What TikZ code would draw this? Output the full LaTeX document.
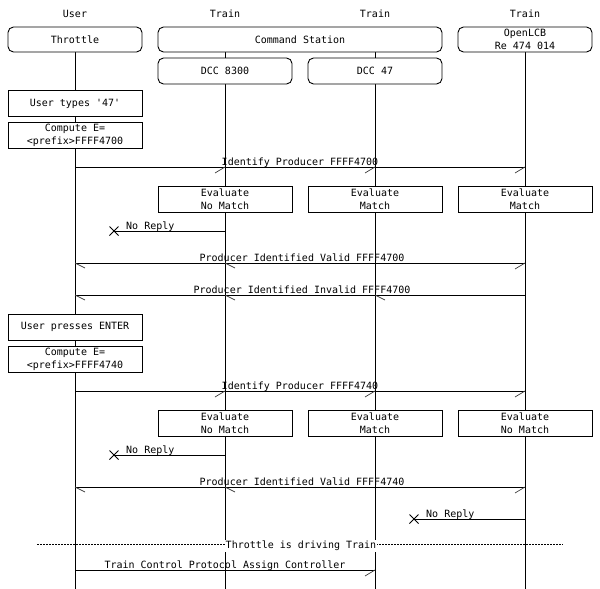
\documentclass[tikz,border=0pt]{standalone}
\usepackage{fontspec}
\newfontfamily\monofam{DejaVu Sans Mono}
\begin{document}
\begin{tikzpicture}[x=1pt,y=-1pt,
  txt/.style={font=\monofam\fontsize{10}{13}\selectfont, inner sep=0pt},
  entity/.style={txt, draw, line width=0.9pt, rounded corners=5.5pt, fill=white, align=center},
  action/.style={txt, draw, line width=0.9pt, fill=white, align=center},
  life/.style={line width=0.9pt},
  msg/.style={line width=0.9pt},
  barb/.style={line width=0.7pt, black!75},
  lbl/.style={txt, anchor=base},
  sep/.style={line width=0.8pt, dash pattern=on 2pt off 1pt},
]
\useasboundingbox (0,0) rectangle (600,589);

% column headings
\node[lbl] (hUser) at (75,17.5) {User};
\node[lbl] (hTr1) at (225,17.5) {Train};
\node[lbl] (hTr2) at (375,17.5) {Train};
\node[lbl] (hTr3) at (525,17.5) {Train};

% lifelines
\draw[life] (75,52) -- (75,589);
\draw[life] (225,52) -- (225,589);
\draw[life] (375,52) -- (375,589);
\draw[life] (525,52) -- (525,589);

% entities
\node[entity, minimum width=134pt, minimum height=25pt] (thr) at (75,39.5) {Throttle};
\node[entity, minimum width=284pt, minimum height=25pt] (cs) at (300,39.5) {Command Station};
\node[entity, minimum width=134pt, minimum height=25pt] (olcb) at (525,39.5) {OpenLCB\\Re 474 014};
\node[entity, minimum width=134pt, minimum height=26pt] (d83) at (225,71) {DCC 8300};
\node[entity, minimum width=134pt, minimum height=26pt] (d47) at (375,71) {DCC 47};

% --- first address: 47 ---
\node[action, minimum width=134pt, minimum height=25.5pt] (typ) at (75,103.5) {User types '47'};
\node[action, minimum width=134pt, minimum height=26pt] (cmp1) at (75,135) {Compute E=\\<prefix>FFFF4700};

\draw[msg] (thr |- 0,167) -- (olcb |- 0,167);
\node[lbl] (mIdent1) at (300,165) {Identify Producer FFFF4700};
\draw[barb] (d83 |- 0,167) -- ++(-10,6);
\draw[barb] (d47 |- 0,167) -- ++(-10,6);
\draw[barb] (olcb |- 0,167) -- ++(-10,6);

\node[action, minimum width=134pt, minimum height=26pt] (ev1a) at (225,199.5) {Evaluate\\No Match};
\node[action, minimum width=134pt, minimum height=26pt] (ev1b) at (375,199.5) {Evaluate\\Match};
\node[action, minimum width=134pt, minimum height=26pt] (ev1c) at (525,199.5) {Evaluate\\Match};

\coordinate (lost1) at (114,231);
\draw[msg] (d83 |- 0,231) -- (lost1);
\draw[msg] ([shift={(-4.5,-4.5)}]lost1) -- ([shift={(4.5,4.5)}]lost1)
           ([shift={(-4.5,4.5)}]lost1) -- ([shift={(4.5,-4.5)}]lost1);
\node[lbl, anchor=base west] (mNo1) at (126,229) {No Reply};

\draw[msg] (thr |- 0,263) -- (olcb |- 0,263);
\node[lbl] (mValid1) at (302,261) {Producer Identified Valid FFFF4700};
\draw[barb] (thr |- 0,263) -- ++(10,5);
\draw[barb] (d83 |- 0,263) -- ++(10,5);
\draw[barb] (olcb |- 0,263) -- ++(-10,6);

\draw[msg] (thr |- 0,295) -- (olcb |- 0,295);
\node[lbl] (mInv1) at (302,293) {Producer Identified Invalid FFFF4700};
\draw[barb] (thr |- 0,295) -- ++(10,5);
\draw[barb] (d83 |- 0,295) -- ++(10,5);
\draw[barb] (d47 |- 0,295) -- ++(10,5);

% --- ENTER ---
\node[action, minimum width=134pt, minimum height=26pt] (ent) at (75,327) {User presses ENTER};
\node[action, minimum width=134pt, minimum height=26pt] (cmp2) at (75,359) {Compute E=\\<prefix>FFFF4740};

\draw[msg] (thr |- 0,391) -- (olcb |- 0,391);
\node[lbl] (mIdent2) at (300,389) {Identify Producer FFFF4740};
\draw[barb] (d83 |- 0,391) -- ++(-10,6);
\draw[barb] (d47 |- 0,391) -- ++(-10,6);
\draw[barb] (olcb |- 0,391) -- ++(-10,6);

\node[action, minimum width=134pt, minimum height=26pt] (ev2a) at (225,423.5) {Evaluate\\No Match};
\node[action, minimum width=134pt, minimum height=26pt] (ev2b) at (375,423.5) {Evaluate\\Match};
\node[action, minimum width=134pt, minimum height=26pt] (ev2c) at (525,423.5) {Evaluate\\No Match};

\coordinate (lost2) at (114,455);
\draw[msg] (d83 |- 0,455) -- (lost2);
\draw[msg] ([shift={(-4.5,-4.5)}]lost2) -- ([shift={(4.5,4.5)}]lost2)
           ([shift={(-4.5,4.5)}]lost2) -- ([shift={(4.5,-4.5)}]lost2);
\node[lbl, anchor=base west] (mNo2) at (126,453) {No Reply};

\draw[msg] (thr |- 0,487) -- (olcb |- 0,487);
\node[lbl] (mValid2) at (302,485) {Producer Identified Valid FFFF4740};
\draw[barb] (thr |- 0,487) -- ++(10,5);
\draw[barb] (d83 |- 0,487) -- ++(10,5);
\draw[barb] (olcb |- 0,487) -- ++(-10,6);

\coordinate (lost3) at (414,519);
\draw[msg] (olcb |- 0,519) -- (lost3);
\draw[msg] ([shift={(-4.5,-4.5)}]lost3) -- ([shift={(4.5,4.5)}]lost3)
           ([shift={(-4.5,4.5)}]lost3) -- ([shift={(4.5,-4.5)}]lost3);
\node[lbl, anchor=base west] (mNo3) at (426,517) {No Reply};

% --- separator ---
\coordinate (sepL) at (37,544);
\coordinate (sepR) at (563,544);
\draw[sep] (sepL) -- (sepR);
\node[lbl, fill=white, inner xsep=1pt, inner ysep=1pt] (mSep) at (301,548.5) {Throttle is driving Train};

\draw[msg] (thr |- 0,570) -- (d47 |- 0,570);
\node[lbl] (mAssign) at (225,568) {Train Control Protocol Assign Controller};
\draw[barb] (d47 |- 0,570) -- ++(-10,6);
\end{tikzpicture}
\end{document}
